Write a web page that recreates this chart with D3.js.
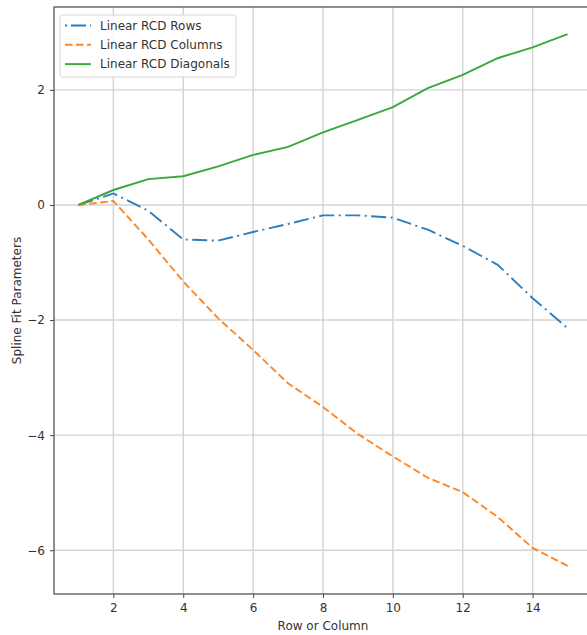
<!DOCTYPE html>
<html>
<head>
<meta charset="utf-8">
<script src="https://cdn.jsdelivr.net/npm/d3@7"></script>
<style>
  body { margin: 0; background: #fff; }
  svg { font-family: "DejaVu Sans", sans-serif; }
</style>
</head>
<body>
<svg id="chart" width="587" height="635"></svg>
<script>
const positions = [1, 2, 3, 4, 5, 6, 7, 8, 9, 10, 11, 12, 13, 14, 15];
const rowsValues = [0, 0.20, -0.10, -0.60, -0.62, -0.47, -0.33, -0.18, -0.18, -0.22, -0.43, -0.71, -1.04, -1.62, -2.14];
const columnsValues = [0, 0.07, -0.60, -1.33, -1.97, -2.52, -3.10, -3.51, -3.98, -4.37, -4.74, -4.99, -5.42, -5.96, -6.27];
const diagonalsValues = [0, 0.26, 0.45, 0.50, 0.67, 0.87, 1.01, 1.26, 1.48, 1.70, 2.03, 2.26, 2.55, 2.74, 2.97];
const xTicks = [2, 4, 6, 8, 10, 12, 14];
const yTicks = [-6, -4, -2, 0, 2];

const series = [
  { name: 'Linear RCD Rows', values: rowsValues, color: '#2b7fc0', dash: '15,4.5,2,4.5' },
  { name: 'Linear RCD Columns', values: columnsValues, color: '#ff8624', dash: '7.5,3.5' },
  { name: 'Linear RCD Diagonals', values: diagonalsValues, color: '#3aa83a', dash: null }
];

const svg = d3.select('#chart'),
  margin = { top: 7, right: -5, bottom: 41, left: 54 },
  width = +svg.attr('width') - margin.left - margin.right,
  height = +svg.attr('height') - margin.top - margin.bottom,
  g = svg.append('g').attr('transform', `translate(${margin.left},${margin.top})`);

const x = d3.scaleLinear().domain([0.3, 15.7]).range([0, width]);
const y = d3.scaleLinear().domain([-6.76, 3.44]).range([height, 0]);

// grid
g.append('g')
  .selectAll('line')
  .data(xTicks)
  .enter()
  .append('line')
  .attr('x1', d => x(d)).attr('x2', d => x(d))
  .attr('y1', 0).attr('y2', height)
  .attr('stroke', '#d3d3d3').attr('stroke-width', 1.4);
g.append('g')
  .selectAll('line')
  .data(yTicks)
  .enter()
  .append('line')
  .attr('x1', 0).attr('x2', width)
  .attr('y1', d => y(d)).attr('y2', d => y(d))
  .attr('stroke', '#d3d3d3').attr('stroke-width', 1.4);

// axes
const xAxis = g.append('g')
  .attr('transform', `translate(0,${height})`)
  .call(d3.axisBottom(x).tickValues(xTicks).tickSize(4).tickPadding(5).tickFormat(d3.format('d')));
const yAxis = g.append('g')
  .call(d3.axisLeft(y).tickValues(yTicks).tickSize(4).tickPadding(5).tickFormat(d => d < 0 ? '\u2212' + Math.abs(d) : d));
[xAxis, yAxis].forEach(a => {
  a.selectAll('text').attr('font-size', 12).attr('fill', '#333').attr('font-family', '"DejaVu Sans", sans-serif');
  a.selectAll('line').attr('stroke', '#444');
  a.select('.domain').remove();
});

// spines
g.append('rect')
  .attr('x', 0).attr('y', 0).attr('width', width).attr('height', height)
  .attr('fill', 'none').attr('stroke', '#555').attr('stroke-width', 1.3);

// lines
const line = d3.line()
  .x((d, i) => x(positions[i]))
  .y(d => y(d));

g.selectAll('.series')
  .data(series)
  .enter()
  .append('path')
  .attr('class', 'series')
  .attr('d', d => line(d.values))
  .attr('fill', 'none')
  .attr('stroke', d => d.color)
  .attr('stroke-width', 1.9)
  .attr('stroke-dasharray', d => d.dash);

// legend
const legend = g.append('g').attr('transform', 'translate(6,8)');
legend.append('rect')
  .attr('width', 176).attr('height', 62).attr('rx', 3)
  .attr('fill', 'rgba(255,255,255,0.85)').attr('stroke', '#d8d8d8');
series.forEach((s, i) => {
  const ly = 10.5 + i * 19.3;
  legend.append('line')
    .attr('x1', 5).attr('x2', 31).attr('y1', ly).attr('y2', ly)
    .attr('stroke', s.color).attr('stroke-width', 1.9)
    .attr('stroke-dasharray', s.dash ? (i === 0 ? '2,4,15,4' : '7.5,3.5') : null);
  legend.append('text')
    .attr('x', 40).attr('y', ly).attr('dy', '0.35em')
    .attr('font-size', 12).attr('fill', '#333')
    .text(s.name);
});

// axis labels
svg.append('text')
  .attr('x', margin.left + x(8)).attr('y', 630)
  .attr('text-anchor', 'middle').attr('font-size', 12).attr('fill', '#333')
  .text('Row or Column');
svg.append('text')
  .attr('transform', `translate(21,${margin.top + height / 2}) rotate(-90)`)
  .attr('text-anchor', 'middle').attr('font-size', 12).attr('fill', '#333')
  .text('Spline Fit Parameters');
</script>
</body>
</html>
